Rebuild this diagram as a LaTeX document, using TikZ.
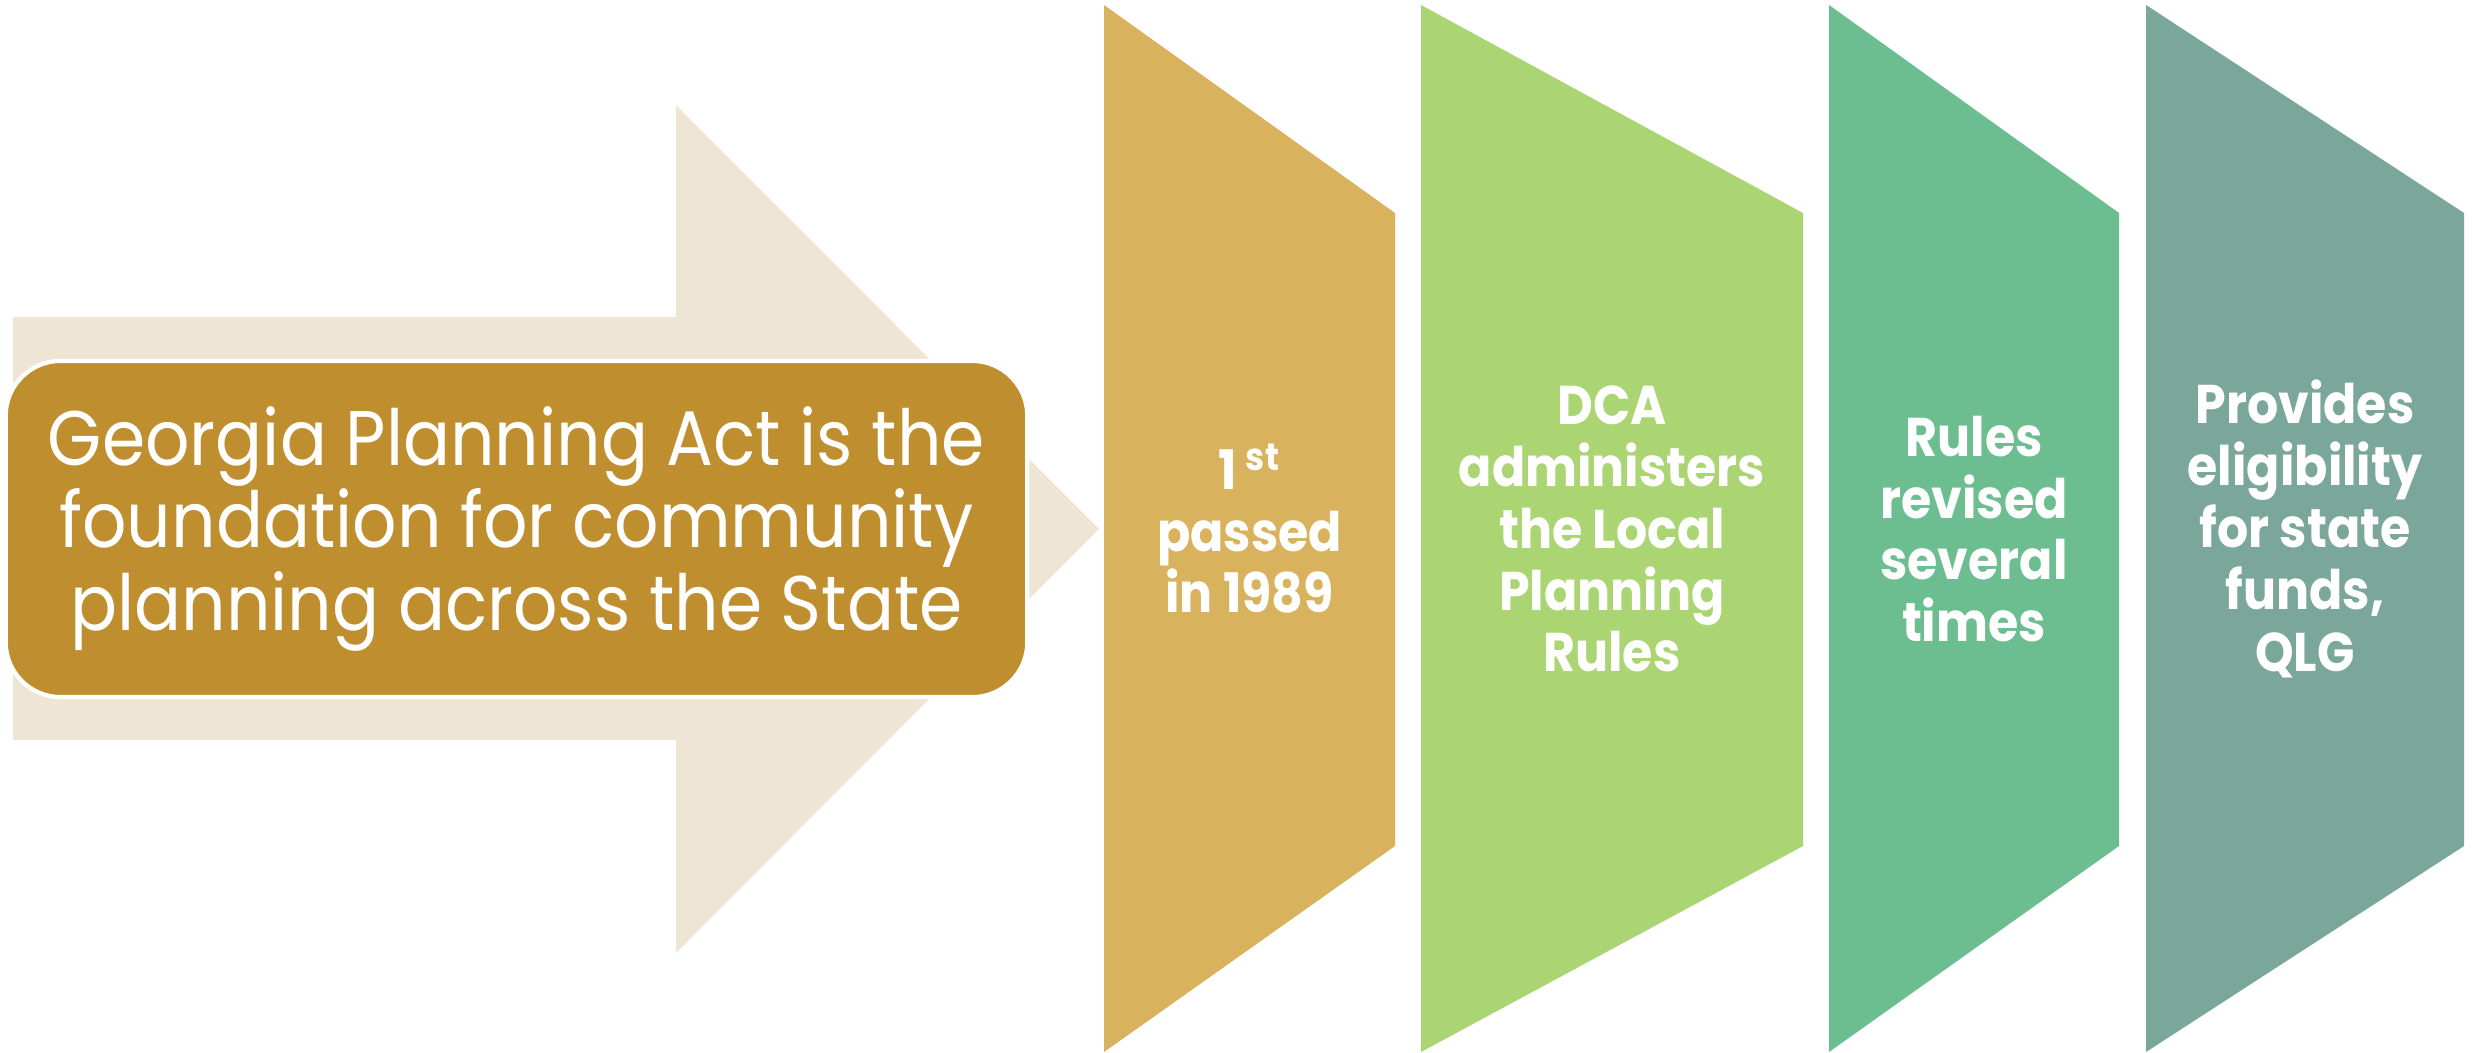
\documentclass[tikz,border=0pt]{standalone}
\usepackage{fontspec}
\setmainfont{Poppins}[FakeStretch=0.9]
\definecolor{arrowbg}{HTML}{EFE5D4}
\definecolor{actbox}{HTML}{BF8F2F}
\definecolor{stepa}{HTML}{D9B25E}
\definecolor{stepb}{HTML}{ABD573}
\definecolor{stepc}{HTML}{6CBE91}
\definecolor{stepd}{HTML}{7BA79A}
\tikzset{
	acttext/.style={text=white, align=center, inner sep=0pt, font=\fontsize{22}{23.6}\selectfont},
	steptext/.style={text=white, align=center, font=\bfseries\fontsize{15.5}{17.6}\selectfont}
}
\begin{document}
\begin{tikzpicture}[x=0.01cm, y=-0.01cm]
	\useasboundingbox (0,0) rectangle (2483,1052);
	% big arrow behind the act box
	\fill[arrowbg] (13,317) -- (676,317) -- (676,105) -- (1099,529) -- (676,953) -- (676,740) -- (13,740) -- cycle;
	\node[acttext, fill=actbox, draw=white, line width=1.2pt, rounded corners=0.55cm, minimum width=10.21cm, minimum height=3.36cm] (act) at (516.5,529) {Georgia Planning Act is the\\foundation for community\\planning across the State};
	% the four steps
	\fill[stepa] (1104,5) -- (1395,213) -- (1395,846) -- (1104,1052) -- cycle;
	\fill[stepb] (1421,5) -- (1803,213) -- (1803,846) -- (1421,1052) -- cycle;
	\fill[stepc] (1829,5) -- (2119,213) -- (2119,846) -- (1829,1052) -- cycle;
	\fill[stepd] (2146,5) -- (2464,213) -- (2464,846) -- (2146,1052) -- cycle;
	\node[steptext] (passed) at (1249.5,529) {1\,\textsuperscript{st}\\passed\\in 1989};
	\node[steptext] (dca) at (1612,529) {DCA\\administers\\the Local\\Planning\\Rules};
	\node[steptext] (revised) at (1974,529) {Rules\\revised\\several\\times};
	\node[steptext] (funds) at (2305,529) {Provides\\eligibility\\for state\\funds,\\QLG};
\end{tikzpicture}
\end{document}
